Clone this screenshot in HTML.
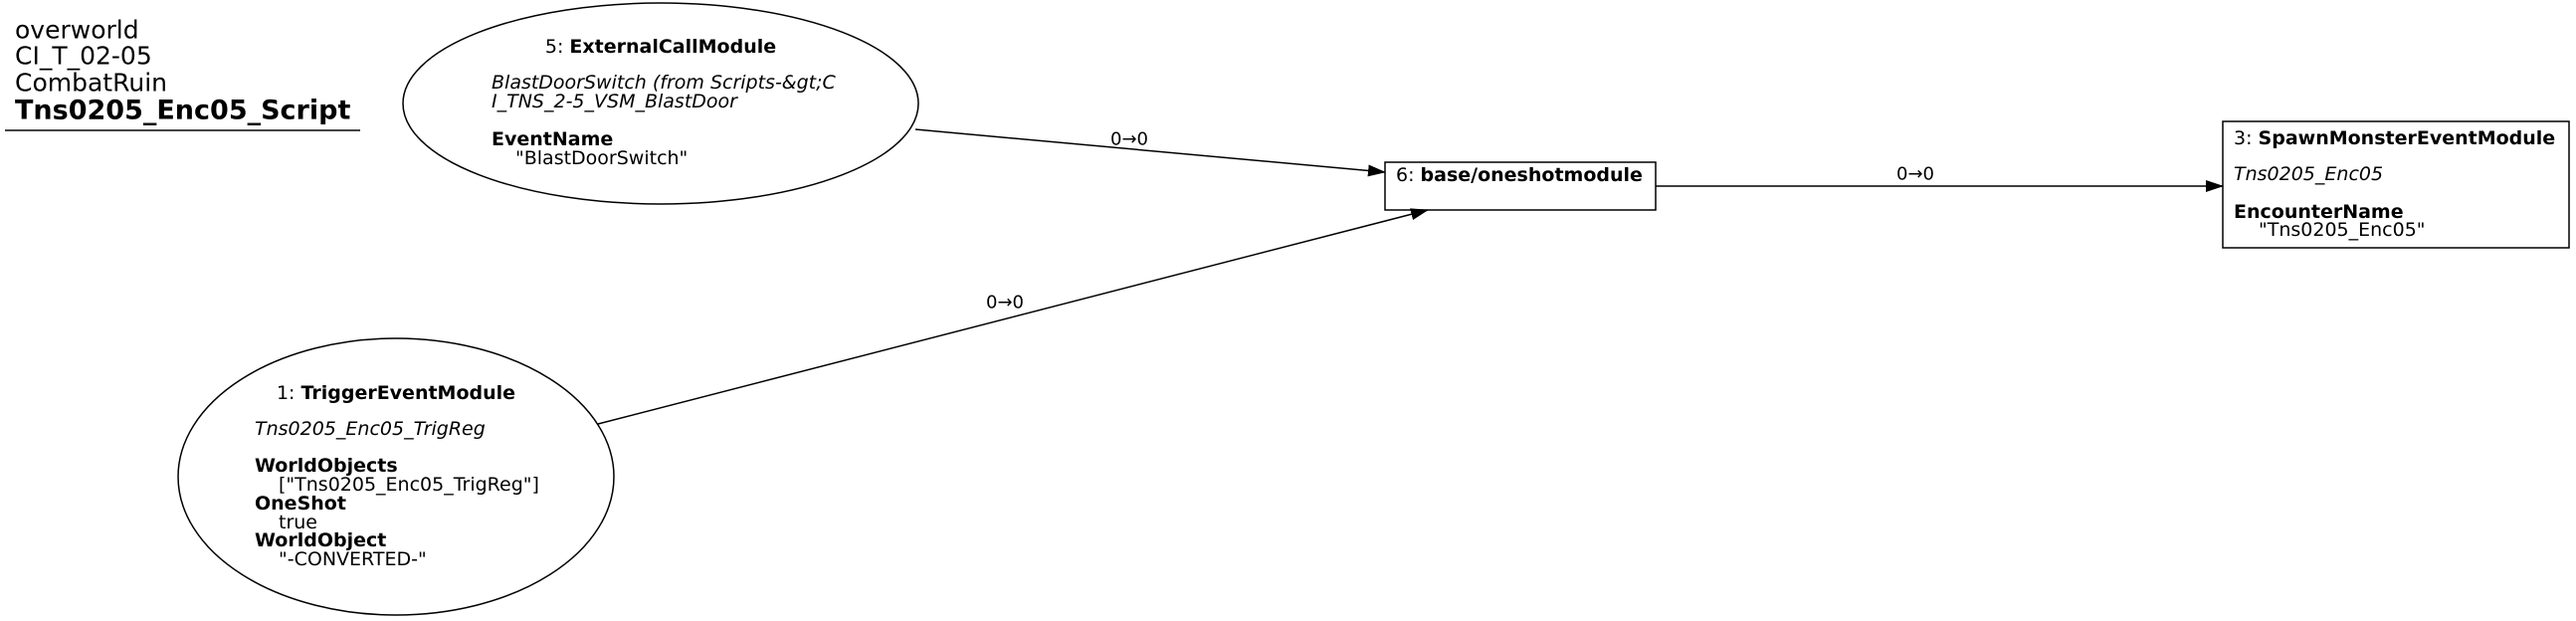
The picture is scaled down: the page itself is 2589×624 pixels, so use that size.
<!DOCTYPE html>
<html><head><meta charset="utf-8"><style>
html,body{margin:0;padding:0;background:#fff;width:2589px;height:624px;overflow:hidden}
svg text{font-family:"DejaVu Sans","Liberation Sans",sans-serif;font-size:19px;fill:#000;dominant-baseline:central}
.b{font-weight:bold}.i{font-style:italic}.e{font-size:18px}
</style></head><body>
<svg width="2589" height="624" viewBox="0 0 2589 624" xmlns="http://www.w3.org/2000/svg">
<defs>
<marker id="ab" markerWidth="18" markerHeight="12" refX="17" refY="6" orient="auto" markerUnits="userSpaceOnUse" viewBox="0 0 18 12"><path d="M0,0 L18,6 L0,12z" fill="#000"/></marker></defs>
<text x="15" y="30" style="font-size:25px">overworld</text>
<text x="15" y="56" style="font-size:25px">CI_T_02-05</text>
<text x="15" y="83" style="font-size:25px">CombatRuin</text>
<text x="15" y="111" class="b" style="font-size:27px">Tns0205_Enc05_Script</text>
<line x1="5" y1="131" x2="362" y2="131" stroke="#444" stroke-width="2"/>

<ellipse cx="664" cy="104" rx="259" ry="101" fill="none" stroke="#000" stroke-width="1.5"/>
<text x="664" y="47" text-anchor="middle">5: <tspan class="b">ExternalCallModule</tspan></text>
<text x="494" y="83" class="i">BlastDoorSwitch (from Scripts-&amp;gt;C</text>
<text x="494" y="102" class="i">I_TNS_2-5_VSM_BlastDoor</text>
<text x="494" y="140" class="b">EventName</text>
<text x="518" y="159">"BlastDoorSwitch"</text>

<ellipse cx="398" cy="479" rx="219" ry="139" fill="none" stroke="#000" stroke-width="1.5"/>
<text x="398" y="395" text-anchor="middle">1: <tspan class="b">TriggerEventModule</tspan></text>
<text x="256" y="431" class="i">Tns0205_Enc05_TrigReg</text>
<text x="256" y="468" class="b">WorldObjects</text>
<text x="280" y="487">["Tns0205_Enc05_TrigReg"]</text>
<text x="256" y="506" class="b">OneShot</text>
<text x="280" y="525">true</text>
<text x="256" y="543" class="b">WorldObject</text>
<text x="280" y="562">"-CONVERTED-"</text>

<rect x="1392" y="163" width="272" height="48" fill="none" stroke="#000" stroke-width="1.5"/>
<text x="1403" y="176">6: <tspan class="b">base/oneshotmodule</tspan></text>

<rect x="2234" y="122" width="348" height="127" fill="none" stroke="#000" stroke-width="1.5"/>
<text x="2245" y="139">3: <tspan class="b">SpawnMonsterEventModule</tspan></text>
<text x="2245" y="175" class="i">Tns0205_Enc05</text>
<text x="2245" y="213" class="b">EncounterName</text>
<text x="2270" y="231">"Tns0205_Enc05"</text>

<line x1="920" y1="130" x2="1392" y2="173" stroke="#000" stroke-width="1.5" marker-end="url(#ab)"/>
<text x="1135" y="140" text-anchor="middle" class="e">0→0</text>
<line x1="601" y1="426" x2="1435" y2="211" stroke="#000" stroke-width="1.5" marker-end="url(#ab)"/>
<text x="1010" y="304" text-anchor="middle" class="e">0→0</text>
<line x1="1664" y1="187" x2="2234" y2="187" stroke="#000" stroke-width="1.5" marker-end="url(#ab)"/>
<text x="1925" y="175" text-anchor="middle" class="e">0→0</text>
</svg>
</body></html>
